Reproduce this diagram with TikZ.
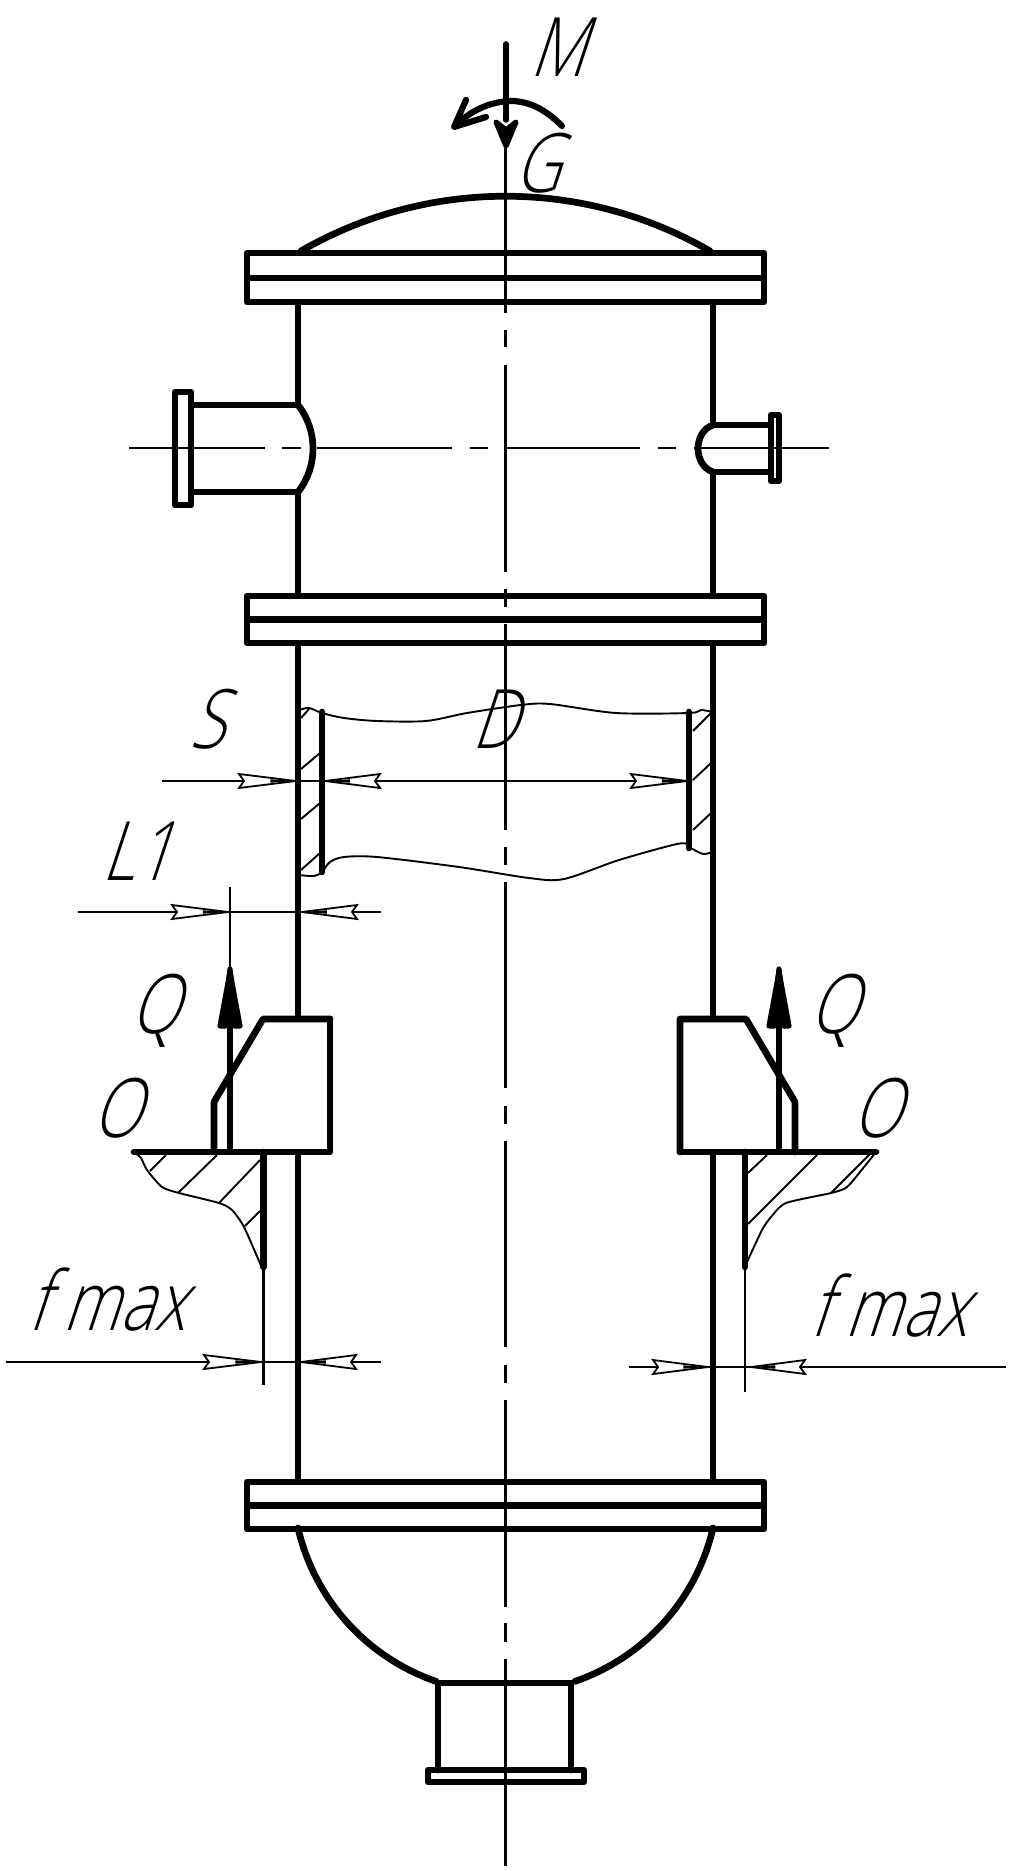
\documentclass[tikz,border=0pt]{standalone}
\usepackage{fontspec}
\newfontfamily\lblfont{Open Sans Light}
\tikzset{
  px/.style={x=0.5pt,y=-0.5pt},
  thick line/.style={line width=3.35pt,line join=round,line cap=round,black},
  thin line/.style={line width=1.2pt,black},
  hair/.style={line width=0.95pt,black},
  solidhead/.style={fill=black,draw=black,line width=2.6pt,line join=round,line cap=round},
  openhead/.style={fill=white,draw=black,line width=0.9pt,line join=miter},
  lbl/.style={font=\lblfont\fontsize{41}{41}\selectfont,inner sep=0pt,xslant=0.33,xscale=0.78,transform shape,text=black}
}
\newcommand{\dimhead}[4]{% tip x, y, tail x, notch x
  \filldraw[openhead] (#1,#2) -- (#3,#2-7) -- (#4,#2) -- (#3,#2+7) -- cycle;
  \fill[black] (#1,#2) -- (0.55*#1+0.45*#3,#2-1.7) -- (0.55*#1+0.45*#3,#2+1.7) -- cycle;
}
\begin{document}
\begin{tikzpicture}[px]
\useasboundingbox (1,0) rectangle (1012,1871);
\fill[white] (1,0) rectangle (1012,1871);

% centre line
\foreach \a/\b in {148/313,330/347,365/572,589/607,624/830,847/865,882/1088,1106/1124,1141/1347,1365/1383,1400/1607,1623/1642,1659/1866}
  \draw[thin line] (506.5,\a) -- (506.5,\b);
% horizontal centre line
\foreach \a/\b in {130/266,283/302,318/453,471/489,507/641,659/677,695/830}
  \draw[thin line] (\a,448) -- (\b,448);

% shell
\draw[thick line,line cap=butt] (299,301) -- (299,405);
\draw[thick line,line cap=butt] (299,492) -- (299,596);
\draw[thick line,line cap=butt] (714,301) -- (714,425);
\draw[thick line,line cap=butt] (714,472) -- (714,596);
\draw[thick line,line cap=butt] (299,643) -- (299,1019);
\draw[thick line,line cap=butt] (714,643) -- (714,1019);
\draw[thick line,line cap=butt] (299,1152) -- (299,1482);
\draw[thick line,line cap=butt] (714,1152) -- (714,1482);

% top head
\draw[thick line] (302,251) .. controls (428.6,178) and (584.4,178) .. (711,251);

% flanges
\foreach \a/\b/\c in {253/278/302,596/619.5/643,1482/1505.5/1529}{
  \draw[thick line] (248,\a) rectangle (765,\c);
  \draw[thick line,line cap=butt] (248,\b) -- (765,\b);
}

% left nozzle
\draw[thick line] (299,405) .. controls (319,430) and (319,467) .. (299,492);
\draw[thick line,line cap=butt] (192,405) -- (299,405);
\draw[thick line,line cap=butt] (192,492) -- (299,492);
\draw[thick line] (176,392) rectangle (192,505);
% right nozzle
\draw[thick line] (714,425) .. controls (694,432) and (694,465) .. (714,472);
\draw[thick line,line cap=butt] (714,425) -- (772,425);
\draw[thick line,line cap=butt] (714,472) -- (772,472);
\draw[thick line] (772,415) rectangle (780,481);

% bottom head
\draw[thick line] plot[domain=13:71,samples=40,smooth] ({506.5-213*cos(\x)},{1480+213*sin(\x)});
\draw[thick line] plot[domain=13:71,samples=40,smooth] ({506.5+213*cos(\x)},{1480+213*sin(\x)});
\draw[thick line] (439,1770) -- (439,1683) -- (572,1683) -- (572,1770);
\draw[thick line] (429,1770) rectangle (585,1782);

% cut-away
\draw[hair] plot[smooth,tension=.5] coordinates {(300,710) (310,708) (323,713) (345,718) (378,721) (427,721) (468,713) (522,705) (551,704) (617,713) (690,713) (702,710) (713,712)};
\draw[hair] plot[smooth,tension=.5] coordinates {(300,875) (315,876) (323,872) (331,862) (345,857) (378,857) (460,867) (530,878) (565,879) (620,860) (678,844) (690,845) (692,848) (704,854) (713,852)};
\draw[thick line] (323,712) -- (323,872);
\draw[thick line] (690,712) -- (690,848);
\foreach \a/\b/\c/\d in {302/718/310/709,302/769/321/753,302/819/321/803,302/870/321/853,694/731/712/713,694/780/712/763,694/830/712/813}
  \draw[hair] (\a,\b) -- (\c,\d);

% supports
\draw[thick line] (331,1019) -- (264,1019) -- (215,1102) -- (215,1152);
\draw[thick line] (135,1152) -- (331,1152) -- (331,1019);
\draw[thick line] (681,1152) -- (877,1152);
\draw[thick line] (681,1152) -- (681,1019) -- (747,1019) -- (796,1102) -- (796,1152);

% foundation cuts
\draw[thick line] (264.5,1152) -- (264.5,1267);
\draw[thick line] (746,1152) -- (746,1267);
\draw[thin line] (264.5,1267) -- (264.5,1385);
\draw[thin line] (746,1267) -- (746,1392);
\draw[hair] plot[smooth,tension=.4] coordinates {(135,1152) (142,1158) (148,1170) (163,1187) (180,1193) (220,1203) (233,1210) (245,1227) (263,1268)};
\draw[hair] plot[smooth,tension=.4] coordinates {(877,1152) (865,1167) (848,1187) (832,1193) (787,1203) (772,1217) (763,1230) (748,1262)};
\foreach \a/\b/\c/\d in {167/1155/151/1171,218/1155/179/1193,261/1160/220/1203,261/1211/246/1226,768/1155/749/1173,818/1155/749/1224,872/1153/832/1193}
  \draw[hair] (\a,\b) -- (\c,\d);

% force arrows Q
\draw[thin line] (231,887) -- (231,967);
\draw[line width=2.8pt] (231,1152) -- (231,1020);
\draw[line width=2.8pt] (780,1152) -- (780,1020);
\filldraw[solidhead] (231,969) -- (225,1026) -- (231,1024) -- (237,1026) -- cycle;
\filldraw[solidhead] (231,972) -- (221,1026) -- (226,1026) -- cycle;
\filldraw[solidhead] (231,972) -- (241,1026) -- (236,1026) -- cycle;
\filldraw[solidhead] (780,969) -- (774,1026) -- (780,1024) -- (786,1026) -- cycle;
\filldraw[solidhead] (780,972) -- (770,1026) -- (775,1026) -- cycle;
\filldraw[solidhead] (780,972) -- (790,1026) -- (785,1026) -- cycle;

% force arrow G
\draw[line width=2.8pt,line cap=round] (507,44) -- (507,120);
\filldraw[solidhead] (507,146) -- (497,122) -- (507,130) -- (517,122) -- cycle;

% moment arrow
\draw[line width=3.1pt,line cap=round] (563,126) .. controls (545,108) and (530,102) .. (514,101) .. controls (490,101) and (470,112) .. (456,126);
\draw[line width=3.1pt,line cap=round,line join=round] (467,100) -- (455,127) -- (487,117);

% dimensions
\draw[thin line] (163,781) -- (690,781);
\dimhead{297}{781}{240}{245}
\dimhead{326}{781}{381}{376}
\dimhead{688}{781}{632}{637}
\draw[thin line] (79,912) -- (382,912);
\dimhead{229}{912}{173}{178}
\dimhead{303}{912}{358}{353}
\draw[thin line] (7,1362) -- (382,1362);
\dimhead{262}{1362}{205}{210}
\dimhead{302}{1362}{357}{352}
\draw[thin line] (630,1367) -- (1007,1367);
\dimhead{709}{1367}{654}{659}
\dimhead{752}{1367}{806}{801}
% labels
\node[lbl,anchor=base] (lM) at (558,77) {M};
\node[lbl,anchor=base] (lG) at (538,193) {G};
\node[lbl,anchor=base] (lS) at (208,748) {S};
\node[lbl,anchor=base] (lD) at (495,748) {D};
\node[lbl,anchor=base] (lL) at (137,880) {L1};
\node[lbl,anchor=base] (lQa) at (155,1033) {Q};
\node[lbl,anchor=base] (lOa) at (117,1137) {O};
\node[lbl,anchor=base] (lQb) at (834,1033) {Q};
\node[lbl,anchor=base] (lOb) at (877,1137) {O};
\node[lbl,anchor=base] (lFa) at (107,1330) {f max};
\node[lbl,anchor=base] (lFb) at (889,1336) {f max};
\end{tikzpicture}
\end{document}
